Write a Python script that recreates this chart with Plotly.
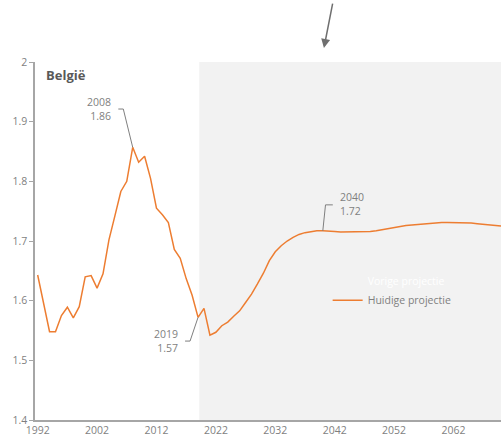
import plotly.graph_objects as go

# Belgium fertility: observed + current projection
years = list(range(1992, 2071))
fertility = [
    1.643, 1.596, 1.548, 1.548, 1.575, 1.589, 1.571, 1.590, 1.640, 1.642,  # 1992-2001
    1.621, 1.645, 1.702, 1.742, 1.783, 1.800, 1.857, 1.832, 1.842, 1.805,  # 2002-2011
    1.755, 1.744, 1.731, 1.686, 1.671, 1.637, 1.609, 1.572, 1.587, 1.542,  # 2012-2021
    1.547, 1.558, 1.564, 1.574, 1.583, 1.597, 1.611, 1.628, 1.646, 1.667,  # 2022-2031
    1.682, 1.692, 1.700, 1.706, 1.711, 1.714, 1.716, 1.717, 1.717, 1.717,  # 2032-2041
    1.716, 1.715, 1.715, 1.715, 1.715, 1.716, 1.716, 1.717, 1.719, 1.721,  # 2042-2051
    1.723, 1.725, 1.726, 1.727, 1.728, 1.729, 1.730, 1.731, 1.731, 1.731,  # 2052-2061
    1.731, 1.731, 1.730, 1.730, 1.729, 1.728, 1.727, 1.726, 1.725,         # 2062-2070
]
projection_start = 2019.2
label_years = [2008, 2019, 2040]
x_ticks = list(range(1992, 2070, 10))
y_ticks = [1.4, 1.5, 1.6, 1.7, 1.8, 1.9, 2.0]

orange = "#ED7D31"
grey = "#7f7f7f"
axis_grey = "#a6a6a6"
font = "Open Sans, Segoe UI, sans-serif"

fig = go.Figure()
fig.add_trace(go.Scatter(
    x=[None], y=[None], mode="lines",
    line=dict(color="rgba(0,0,0,0)"),
    name="<span style='color:white'>Vorige projectie</span>",
))
fig.add_trace(go.Scatter(
    x=years, y=fertility, mode="lines",
    line=dict(color=orange, width=1.5),
    name="Huidige projectie",
))

# grey background for projection period
fig.add_shape(type="rect", x0=projection_start, x1=years[-1], y0=y_ticks[0], y1=y_ticks[-1],
              xref="x", yref="y", fillcolor="#f2f2f2", line_width=0, layer="below")

# leader lines (pixel offsets from the data point) + labels
leaders = {
    2008: dict(path="M0,0L-9.4,38.3L-14.4,38.3", xshift=-20, yshift=38, xanchor="right", align="right"),
    2019: dict(path="M0,0L-8,-23.7L-13,-23.7", xshift=-18, yshift=-24, xanchor="right", align="right"),
    2040: dict(path="M0,0L2.7,26L10,26", xshift=15, yshift=26.5, xanchor="left", align="left"),
}
for yr in label_years:
    val = fertility[years.index(yr)]
    cfg = leaders[yr]
    fig.add_shape(type="path", xref="x", yref="y", xsizemode="pixel", ysizemode="pixel",
                  xanchor=yr, yanchor=val, path=cfg["path"], line=dict(color=grey, width=1))
    fig.add_annotation(x=yr, y=val, text=f"{yr}<br>{val:.2f}", showarrow=False,
                       xshift=cfg["xshift"], yshift=cfg["yshift"], xanchor=cfg["xanchor"],
                       yanchor="middle", align=cfg["align"],
                       font=dict(family=font, size=10.5, color=grey))

fig.add_annotation(xref="paper", yref="paper", x=0.019, y=0.964, text="<b>België</b>",
                   showarrow=False, xanchor="left", yanchor="middle",
                   font=dict(family=font, size=13, color="#595959"))

# arrow above the chart
fig.add_annotation(xref="paper", yref="paper", x=0.62, y=1.039, ax=9, ay=-46, text="",
                   showarrow=True, arrowhead=2, arrowsize=1.2, arrowwidth=1.5, arrowcolor="#6f6f6f")

fig.update_xaxes(
    range=[1991.55, 2070.0], tickvals=x_ticks, ticks="", showgrid=False, zeroline=False,
    showline=True, linecolor=axis_grey, linewidth=1.5, automargin=False,
    tickfont=dict(family=font, size=10.5, color=grey),
)
fig.update_yaxes(
    range=[1.4, 2.0], tickvals=y_ticks, ticktext=["1.4", "1.5", "1.6", "1.7", "1.8", "1.9", "2"],
    ticks="outside", ticklen=4, tickcolor=axis_grey, showgrid=False, zeroline=False,
    showline=True, linecolor=axis_grey, linewidth=1.5, automargin=False,
    tickfont=dict(family=font, size=10.5, color=grey),
)
fig.update_layout(
    width=501, height=437,
    margin=dict(l=35, r=0, t=62, b=17, pad=0, autoexpand=False),
    plot_bgcolor="white", paper_bgcolor="white",
    showlegend=True,
    legend=dict(x=0.628, y=0.428, xanchor="left", yanchor="top", bgcolor="rgba(0,0,0,0)",
                font=dict(family=font, size=10.5, color=grey), itemwidth=30,
                tracegroupgap=0),
)

# the page body has a default 8px margin; remove it so the figure sits at the window corner
fig.write_html("out.html", config={"displayModeBar": False},
               post_script="document.body.style.margin='0px';")
